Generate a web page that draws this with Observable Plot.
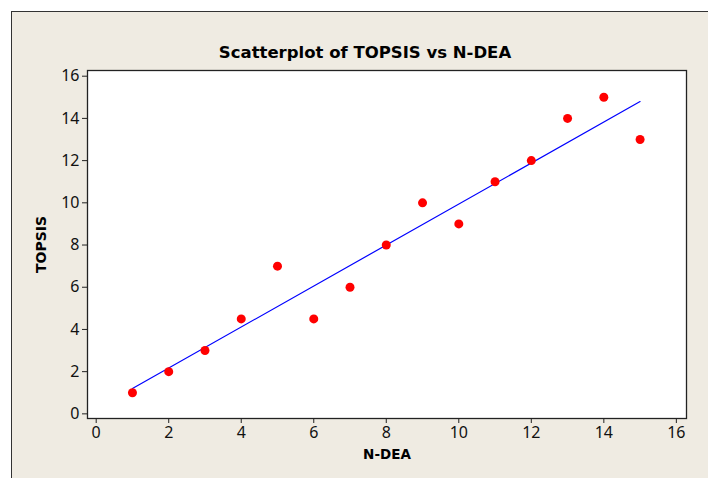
<!DOCTYPE html>
<html>
<head>
<meta charset="utf-8">
<script src="https://cdn.jsdelivr.net/npm/d3@7"></script>
<script src="https://cdn.jsdelivr.net/npm/@observablehq/plot@0.6"></script>
<style>
  html, body { margin: 0; padding: 0; background: #ffffff; }
  #wrap { position: relative; width: 708px; height: 478px; overflow: hidden; }
  #bg { position: absolute; left: 11px; top: 11px; width: 720px; height: 500px; background: #EFEBE2; border-left: 1.5px solid #333; border-top: 1.5px solid #333; }
  #chart { position: absolute; left: 0; top: 0; }
  #chart svg { background: transparent !important; }
</style>
</head>
<body>
<div id="wrap"><div id="bg"></div><div id="chart"></div></div>
<script>
const ndea   = [1, 2, 3, 4, 5, 6, 7, 8, 9, 10, 11, 12, 13, 14, 15];
const topsis = [1, 2, 3, 4.5, 7, 4.5, 6, 8, 10, 9, 11, 12, 14, 15, 13];
const ticks  = [0, 2, 4, 6, 8, 10, 12, 14, 16];
const titleText = "Scatterplot of TOPSIS vs N-DEA";
const xLabel = "N-DEA";
const yLabel = "TOPSIS";

const data = ndea.map((x, i) => ({x, y: topsis[i]}));
const font = "Tahoma, 'Noto Sans', 'DejaVu Sans', sans-serif";
const boldFont = "Tahoma, 'DejaVu Sans', sans-serif";

const chart = Plot.plot({
  width: 708,
  height: 478,
  marginLeft: 87,
  marginRight: 22,
  marginTop: 70,
  marginBottom: 60,
  style: {background: "transparent", fontFamily: font, fontSize: "16px", color: "#111"},
  x: {domain: [-0.24, 16.28], ticks: ticks, tickFormat: d => d, label: null},
  y: {domain: [-0.22, 16.27], ticks: ticks, tickFormat: d => d, label: null},
  marks: [
    Plot.frame({fill: "white", stroke: "none"}),
    Plot.axisX({ticks: ticks, tickSize: 5, tickPadding: 3, fontSize: 16, stroke: "#222", label: null}),
    Plot.axisY({ticks: ticks, tickSize: 5, tickPadding: 3, fontSize: 16, stroke: "#222", label: null}),
    Plot.frame({stroke: "#222", strokeWidth: 1.3}),
    Plot.linearRegressionY(data, {x: "x", y: "y", ci: 0, stroke: "#0000FF", strokeWidth: 1.2}),
    Plot.dot(data, {x: "x", y: "y", r: 4.5, fill: "#FF0000", stroke: "none"}),
    Plot.text([titleText], {frameAnchor: "top", dx: -22, dy: -24, fontFamily: boldFont, fontWeight: "bold", fontSize: 16.5, fill: "#000"}),
    Plot.text([xLabel], {frameAnchor: "bottom", dy: 40, fontFamily: boldFont, fontWeight: "bold", fontSize: 13.5, fill: "#000"}),
    Plot.text([yLabel], {frameAnchor: "left", textAnchor: "middle", dx: -46, rotate: -90, fontFamily: boldFont, fontWeight: "bold", fontSize: 14, fill: "#000"})
  ]
});
document.getElementById("chart").appendChild(chart);
</script>
</body>
</html>
